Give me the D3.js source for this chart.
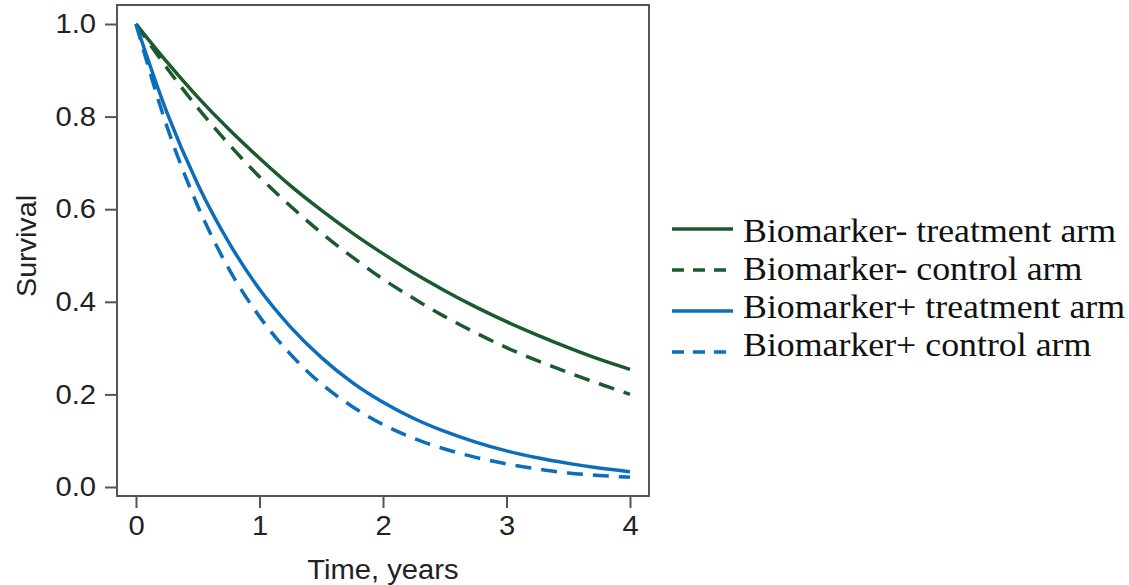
<!DOCTYPE html>
<html>
<head>
<meta charset="utf-8">
<script src="https://cdn.jsdelivr.net/npm/d3@7"></script>
<style>
  body { margin: 0; background: #fff; }
  svg { display: block; }
  .axis text { font-family: "Liberation Sans", Arial, sans-serif; font-size: 27px; fill: #222; }
  .axis path, .axis line { stroke: #555; stroke-width: 2px; }
  .legend text { font-family: "Liberation Serif", "Times New Roman", serif; font-size: 33px; fill: #111; }
</style>
</head>
<body>
<div id="chart"></div>
<script>
// time points (years)
var times = [0, 0.25, 0.5, 0.75, 1, 1.25, 1.5, 1.75, 2, 2.25, 2.5, 2.75, 3, 3.25, 3.5, 3.75, 4];
// survival
var negTreatment = [1.00, 0.918, 0.842, 0.773, 0.710, 0.651, 0.598, 0.549, 0.504, 0.462, 0.424, 0.389, 0.357, 0.328, 0.301, 0.276, 0.254];
var negControl = [1.00, 0.905, 0.819, 0.741, 0.670, 0.607, 0.549, 0.497, 0.449, 0.407, 0.368, 0.333, 0.301, 0.273, 0.247, 0.223, 0.200];
var posTreatment = [1.00, 0.809, 0.654, 0.529, 0.427, 0.346, 0.280, 0.226, 0.183, 0.148, 0.120, 0.097, 0.078, 0.063, 0.051, 0.041, 0.033];
var posControl = [1.00, 0.779, 0.607, 0.472, 0.368, 0.287, 0.223, 0.174, 0.135, 0.105, 0.082, 0.064, 0.050, 0.039, 0.030, 0.025, 0.021];
var seriesNames = ["Biomarker- treatment arm", "Biomarker- control arm", "Biomarker+ treatment arm", "Biomarker+ control arm"];
var xTicks = [0, 1, 2, 3, 4];
var yTicks = [0, 0.2, 0.4, 0.6, 0.8, 1.0];

var green = "#1b5a2c", blue = "#0b6dbb";
var series = [
  {name: seriesNames[0], values: negTreatment, color: green, dash: null},
  {name: seriesNames[1], values: negControl, color: green, dash: "16,10"},
  {name: seriesNames[2], values: posTreatment, color: blue, dash: null},
  {name: seriesNames[3], values: posControl, color: blue, dash: "16,10"}
];

var W = 1129, H = 585;
// frame of the plot region
var frame = {left: 117, right: 649, top: 5, bottom: 496};
// source figure is widened horizontally
var axisStretch = 1.08, legendStretch = 1.085;

var svg = d3.select("#chart").append("svg")
  .attr("width", W).attr("height", H);

var x = d3.scaleLinear().domain([0, 4]).range([136, 630]);
var y = d3.scaleLinear().domain([0, 1]).range([487, 24]);

// frame
svg.append("rect")
  .attr("x", frame.left).attr("y", frame.top)
  .attr("width", frame.right - frame.left).attr("height", frame.bottom - frame.top)
  .attr("fill", "none").attr("stroke", "#555").attr("stroke-width", 2);

// axes
var xAxis = svg.append("g").attr("class", "axis")
  .attr("transform", "translate(0," + frame.bottom + ")")
  .call(d3.axisBottom(x).tickValues(xTicks).tickFormat(d3.format("d")).tickSizeOuter(0).tickSize(12).tickPadding(8));
xAxis.select(".domain").remove();

var yAxis = svg.append("g").attr("class", "axis")
  .attr("transform", "translate(" + frame.left + ",0)")
  .call(d3.axisLeft(y).tickValues(yTicks).tickFormat(d3.format(".1f")).tickSizeOuter(0).tickSize(12).tickPadding(9));
yAxis.select(".domain").remove();

// axis titles
svg.append("text").attr("class", "axis-title")
  .attr("x", (frame.left + frame.right) / 2).attr("y", 579)
  .attr("text-anchor", "middle")
  .style("font-family", "Liberation Sans, Arial, sans-serif").style("font-size", "27px").style("fill", "#222")
  .text("Time, years");

svg.append("text").attr("class", "axis-title")
  .attr("transform", "translate(36,246) rotate(-90)")
  .attr("text-anchor", "middle")
  .attr("textLength", 102).attr("lengthAdjust", "spacingAndGlyphs")
  .style("font-family", "Liberation Sans, Arial, sans-serif").style("font-size", "27px").style("fill", "#222")
  .text("Survival");

// curves
var line = d3.line()
  .x(function(d) { return x(d[0]); })
  .y(function(d) { return y(d[1]); })
  .curve(d3.curveMonotoneX);

svg.selectAll(".curve")
  .data(series)
  .enter()
  .append("path")
  .attr("class", "curve")
  .attr("d", function(s) { return line(times.map(function(t, i) { return [t, s.values[i]]; })); })
  .attr("fill", "none")
  .attr("stroke", function(s) { return s.color; })
  .attr("stroke-width", 3.5)
  .attr("stroke-dasharray", function(s) { return s.dash; });

// legend
var legendY = [229, 270, 311, 352];
var textY = [242, 280, 318, 356];
var legend = svg.append("g").attr("class", "legend");
series.forEach(function(s, i) {
  legend.append("line")
    .attr("x1", 672).attr("x2", 733)
    .attr("y1", legendY[i]).attr("y2", legendY[i])
    .attr("stroke", s.color).attr("stroke-width", 3.5)
    .attr("stroke-dasharray", s.dash ? "12,9" : null);
  legend.append("text")
    .attr("x", 743).attr("y", textY[i])
    .text(s.name);
});

// widen text to match the stretched original
function widen(sel, k) {
  sel.each(function() {
    var el = d3.select(this);
    if (el.attr("textLength")) return;
    el.attr("textLength", this.getComputedTextLength() * k).attr("lengthAdjust", "spacingAndGlyphs");
  });
}
widen(svg.selectAll(".axis text, .axis-title"), axisStretch);
widen(svg.selectAll(".legend text"), legendStretch);
</script>
</body>
</html>
